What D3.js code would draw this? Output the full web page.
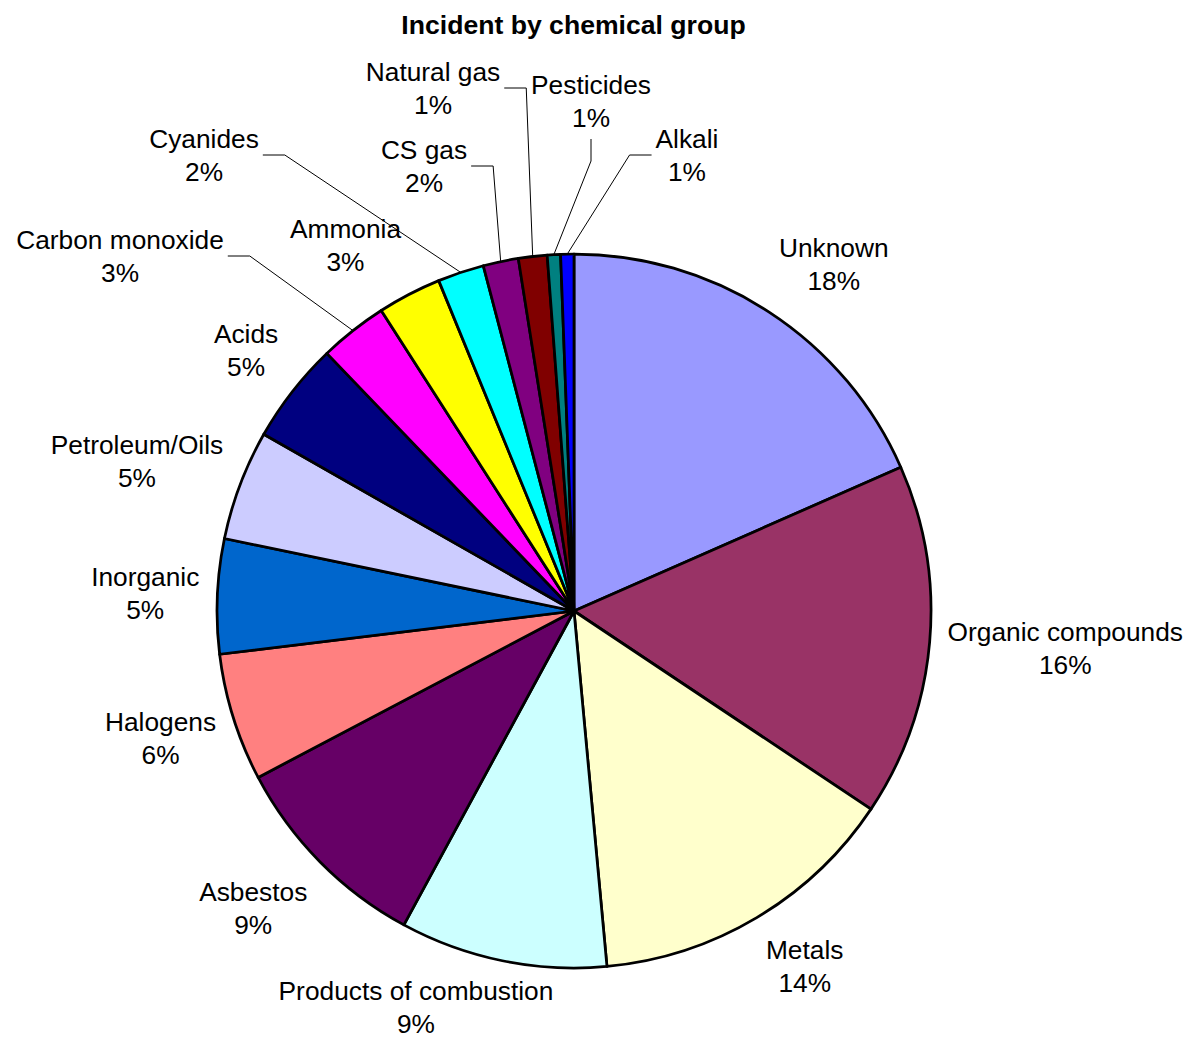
<!DOCTYPE html>
<html>
<head>
<meta charset="utf-8">
<script src="https://cdn.jsdelivr.net/npm/d3@7"></script>
<style>
  html, body { margin: 0; padding: 0; background: #fff; }
  svg { display: block; font-family: "Liberation Sans", Arial, sans-serif; }
</style>
</head>
<body>
<svg id="chart" width="1189" height="1041"></svg>
<script>
// Incident share by chemical group (percent of all incidents)
const categories = [
  "Unknown", "Organic compounds", "Metals", "Products of combustion",
  "Asbestos", "Halogens", "Inorganic", "Petroleum/Oils", "Acids",
  "Carbon monoxide", "Ammonia", "Cyanides", "CS gas", "Natural gas",
  "Pesticides", "Alkali"
];
const shares = [18.45, 16.0, 14.2, 9.4, 9.4, 5.8, 5.2, 5.0, 4.6, 3.1, 2.9, 2.1, 1.6, 1.3, 0.6, 0.6];
const sliceColors = [
  "#9999FF", "#993366", "#FFFFCC", "#CCFFFF", "#660066", "#FF8080",
  "#0066CC", "#CCCCFF", "#000080", "#FF00FF", "#FFFF00", "#00FFFF",
  "#800080", "#800000", "#008080", "#0000FF"
];
const chartTitle = "Incident by chemical group";

// Layout
const W = 1189, H = 1041;
const cx = 574, cy = 611, radius = 357;
const fontSize = 26.3, lineGap = 33;
const labelGap = 18;

// Labels pulled away from their thin slices, given as offsets from the pie centre
const movedLabels = {
  "Carbon monoxide": [-454, -355],
  "Cyanides": [-370, -456],
  "CS gas": [-150, -445],
  "Natural gas": [-141, -523],
  "Pesticides": [17, -510],
  "Alkali": [113, -456]
};

const svg = d3.select("#chart");
svg.append("rect").attr("width", W).attr("height", H).attr("fill", "#fff");

svg.append("text")
  .attr("x", 573.5).attr("y", 34)
  .attr("text-anchor", "middle")
  .attr("font-weight", "bold")
  .attr("font-size", 26.6)
  .attr("fill", "#000")
  .text(chartTitle);

const rows = categories.map((name, i) => ({ name, value: shares[i], color: sliceColors[i] }));
const total = d3.sum(shares);
const pct = d3.format(".0%");

const pie = d3.pie().sort(null).value(d => d.value);
const arcs = pie(rows);
const arcGen = d3.arc().innerRadius(0).outerRadius(radius);

const g = svg.append("g").attr("transform", `translate(${cx},${cy})`);

g.selectAll("path.slice")
  .data(arcs)
  .join("path")
  .attr("class", "slice")
  .attr("d", arcGen)
  .attr("fill", d => d.data.color)
  .attr("stroke", "#000")
  .attr("stroke-width", 2.75)
  .attr("stroke-linejoin", "round");

const clamp = v => Math.max(-1, Math.min(1, v));
const labelLayer = g.append("g");
const leaderLayer = g.insert("g", ":first-child");

arcs.forEach(a => {
  const mid = (a.startAngle + a.endAngle) / 2;
  const s = Math.sin(mid), c = Math.cos(mid);

  const t = labelLayer.append("text")
    .attr("text-anchor", "middle")
    .attr("font-size", fontSize)
    .attr("fill", "#000");
  const l1 = t.append("tspan").text(a.data.name);
  const l2 = t.append("tspan").text(pct(a.data.value / total));
  const w = Math.max(l1.node().getComputedTextLength(), l2.node().getComputedTextLength());
  const h = 2 * lineGap;

  let lx, ly;
  const moved = movedLabels[a.data.name];
  if (moved) {
    lx = moved[0]; ly = moved[1];
  } else {
    const pr = radius + labelGap;
    const px = pr * s, py = -pr * c;
    lx = px + (w / 2) * clamp(3 * s);
    ly = py + (h / 2) * clamp(-1.5 * c);
    // keep the label box inside the chart area
    ly = Math.min(ly, H - cy - h / 2 - 1);
  }
  l1.attr("x", lx).attr("y", ly - 7);
  l2.attr("x", lx).attr("y", ly - 7 + lineGap);

  if (moved) {
    // leader line from the label to the slice edge
    const ex = radius * s, ey = -radius * c;
    const left = lx - w / 2, right = lx + w / 2, bottom = ly + h / 2;
    let pts;
    if (ex > right) {
      pts = [[right + 4, ly], [right + 26, ly], [ex, ey]];
    } else if (ex < left) {
      pts = [[left - 4, ly], [left - 26, ly], [ex, ey]];
    } else {
      pts = [[lx, bottom + 5], [lx, bottom + 27], [ex, ey]];
    }
    leaderLayer.append("path")
      .attr("d", d3.line()(pts))
      .attr("fill", "none")
      .attr("stroke", "#000")
      .attr("stroke-width", 1);
  }
});
</script>
</body>
</html>
